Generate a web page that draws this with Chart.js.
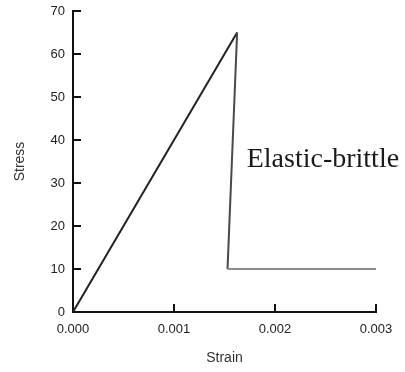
<!DOCTYPE html>
<html>
<head>
<meta charset="utf-8">
<script src="https://cdn.jsdelivr.net/npm/chart.js@4"></script>
<style>
  body { margin: 0; background: #fff; }
  #wrap { width: 405px; height: 372px; position: relative; }
</style>
</head>
<body>
<div id="wrap"><canvas id="stressChart"></canvas></div>
<script>
// values
const strain = [0, 0.001625, 0.00153, 0.003];
const stress = [0, 65, 10, 10];
const segmentColors = ['#222222', '#4a4a4a', '#8c8c8c'];
const annotationText = 'Elastic-brittle';
const annotationAt = [0.00172, 33.8];

const points = strain.map((x, i) => ({ x: x, y: stress[i] }));

// label text placed through the chart's own scales
const textPlugin = {
  id: 'elasticLabel',
  afterDraw(chart) {
    const ctx = chart.ctx;
    const xs = chart.scales.x;
    const ys = chart.scales.y;
    ctx.save();
    ctx.font = '28px "Liberation Serif", "Times New Roman", serif';
    ctx.fillStyle = '#1a1a1a';
    ctx.textAlign = 'left';
    ctx.textBaseline = 'alphabetic';
    ctx.fillText(annotationText, xs.getPixelForValue(annotationAt[0]), ys.getPixelForValue(annotationAt[1]));
    ctx.restore();
  }
};

const tickFont = { family: '"Liberation Sans", Arial, sans-serif', size: 13 };
const titleFont = { family: '"Liberation Sans", Arial, sans-serif', size: 14 };

new Chart(document.getElementById('stressChart').getContext('2d'), {
  type: 'scatter',
  data: {
    datasets: [{
      data: points,
      showLine: true,
      borderWidth: 2,
      borderColor: '#222',
      pointRadius: 0,
      tension: 0,
      segment: {
        borderColor: (c) => segmentColors[c.p0DataIndex] // darker on the slope, grey on the plateau
      }
    }]
  },
  options: {
    responsive: true,
    maintainAspectRatio: false,
    animation: false,
    layout: { padding: { top: 11, right: 29, left: 0, bottom: 0 } },
    plugins: { legend: { display: false }, tooltip: { enabled: false } },
    scales: {
      x: {
        type: 'linear',
        min: 0,
        max: 0.003,
        afterFit: (s) => { s.height = 60; s.paddingLeft = 0; s.paddingRight = 0; },
        border: { color: '#111', width: 2 },
        grid: { drawOnChartArea: false, tickLength: -8, color: '#111', lineWidth: 2 },
        ticks: {
          stepSize: 0.001,
          padding: 18,
          color: '#222',
          font: tickFont,
          maxRotation: 0,
          callback: (v) => v.toFixed(3)
        },
        title: { display: true, text: 'Strain', color: '#333', font: titleFont, padding: { top: 0, bottom: 5 } }
      },
      y: {
        min: 0,
        max: 70,
        afterFit: (s) => { s.width = 73; s.paddingTop = 0; s.paddingBottom = 0; },
        border: { color: '#111', width: 2 },
        grid: { drawOnChartArea: false, tickLength: -8, color: '#111', lineWidth: 2 },
        ticks: { stepSize: 10, padding: 16, color: '#222', font: tickFont },
        title: { display: true, text: 'Stress', color: '#333', font: titleFont, padding: { top: 12, bottom: 0 } }
      }
    }
  },
  plugins: [textPlugin]
});
</script>
</body>
</html>
